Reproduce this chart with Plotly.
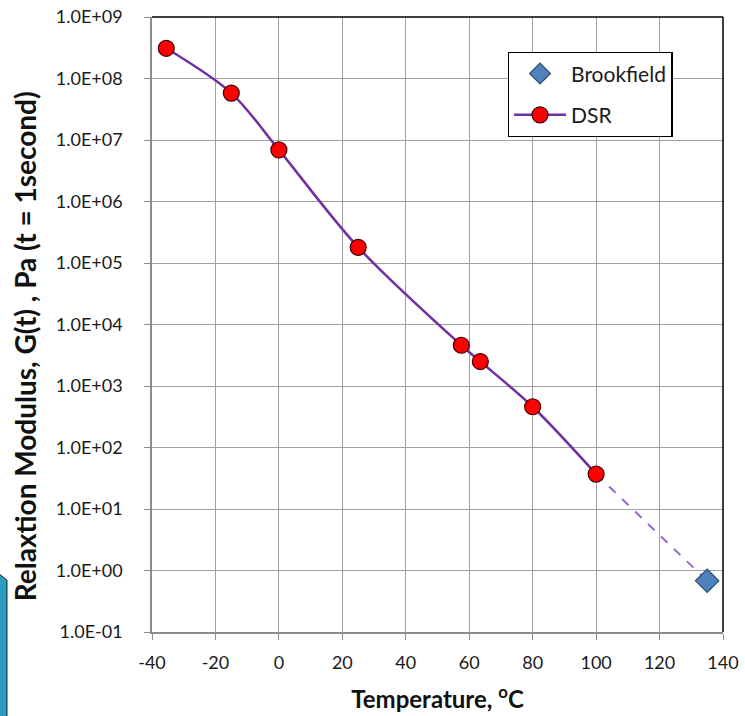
import plotly.graph_objects as go

# Data
dsr_temp = [-35.5, -15, 0, 25, 57.5, 63.5, 80, 100]
dsr_mod = [3.1e8, 5.8e7, 6.9e6, 1.8e5, 4.6e3, 2.5e3, 4.6e2, 37]
brook_temp = [135]
brook_mod = [0.68]

x_ticks = [-40, -20, 0, 20, 40, 60, 80, 100, 120, 140]
y_ticks = [1e-1, 1e0, 1e1, 1e2, 1e3, 1e4, 1e5, 1e6, 1e7, 1e8, 1e9]
y_ticklabels = ["1.0E-01", "1.0E+00", "1.0E+01", "1.0E+02", "1.0E+03", "1.0E+04",
                "1.0E+05", "1.0E+06", "1.0E+07", "1.0E+08", "1.0E+09"]
y_title = "Relaxtion Modulus, G(t) , Pa (t = 1second)"
x_title = "Temperature, <sup>o</sup>C"

FONT = "Lato"
PURPLE = "#7030a0"

fig = go.Figure()

# dashed extrapolation (no legend)
fig.add_trace(go.Scatter(
    x=[dsr_temp[-1], brook_temp[0]], y=[dsr_mod[-1], brook_mod[0]],
    mode="lines", line=dict(color="#9966cc", width=2, dash="dash"),
    showlegend=False, hoverinfo="skip"))

fig.add_trace(go.Scatter(
    x=brook_temp, y=brook_mod, mode="markers", name="Brookfield",
    legendgroup="a",
    marker=dict(symbol="diamond", size=18, color="#4f81bd",
                line=dict(color="#2f4f6f", width=1.2))))

fig.add_trace(go.Scatter(
    x=dsr_temp, y=dsr_mod, mode="lines+markers", name="DSR",
    legendgroup="b",
    line=dict(color=PURPLE, width=2.5, shape="spline", smoothing=0.9),
    marker=dict(symbol="circle", size=16, color="#ff0000",
                line=dict(color="#400000", width=1.2))))

fig.update_layout(
    width=745, height=716,
    margin=dict(l=152, r=22, t=17, b=84, autoexpand=False),
    paper_bgcolor="white", plot_bgcolor="white",
    font=dict(family=FONT, size=18, color="#1a1a1a"),
    legend=dict(x=0.623, y=0.943, xanchor="left", yanchor="top",
                bordercolor="#000000", borderwidth=1.3, bgcolor="white",
                font=dict(family=FONT, size=21, color="#1a1a1a"),
                tracegroupgap=11, traceorder="grouped",
                itemwidth=52),
    showlegend=True,
)

fig.update_xaxes(
    range=[-40, 140], tickvals=x_ticks, ticktext=[str(v) for v in x_ticks],
    showgrid=True, gridcolor="#a0a0a0", gridwidth=1.2,
    showline=True, linecolor="#8c8c8c", linewidth=1.5,
    ticks="outside", ticklen=6, tickcolor="#8c8c8c", tickwidth=1.2,
    zeroline=False, automargin=False, ticklabelstandoff=8,
    tickfont=dict(family=FONT, size=18),
    title=dict(text="<b>" + x_title + "</b>",
               font=dict(family=FONT, size=24, color="#111"), standoff=19),
)
fig.update_yaxes(
    type="log", range=[-1, 9], tickvals=y_ticks, ticktext=y_ticklabels,
    showgrid=True, gridcolor="#a0a0a0", gridwidth=1.2,
    showline=True, linecolor="#8c8c8c", linewidth=1.5,
    ticks="outside", ticklen=6, tickcolor="#8c8c8c", tickwidth=1.2,
    zeroline=False, automargin=False, ticklabelstandoff=18,
    tickfont=dict(family=FONT, size=18),
)

# y-axis title (placed slightly below centre, as in the reference)
fig.add_annotation(text="<b>" + y_title + "</b>", xref="paper", yref="paper",
                   x=-0.222, y=0.465, textangle=-90, showarrow=False,
                   xanchor="center", yanchor="middle",
                   font=dict(family=FONT, size=28, color="#111"))

# black top & right plot-area border
fig.add_shape(type="line", xref="paper", yref="paper", x0=0, x1=1, y0=1, y1=1,
              line=dict(color="black", width=1.5))
fig.add_shape(type="line", xref="paper", yref="paper", x0=1, x1=1, y0=0, y1=1,
              line=dict(color="black", width=1.5))

# decorative slide-background fragment at bottom-left
fig.add_shape(type="path", xref="paper", yref="paper", layer="below",
              path="M -0.2700,0.0960 L -0.2540,0.0845 L -0.2540,-0.1400 L -0.2700,-0.1400 Z",
              fillcolor="#2b9ec0", line=dict(color="#1a1a1a", width=1))

fig.write_html("out.html")
